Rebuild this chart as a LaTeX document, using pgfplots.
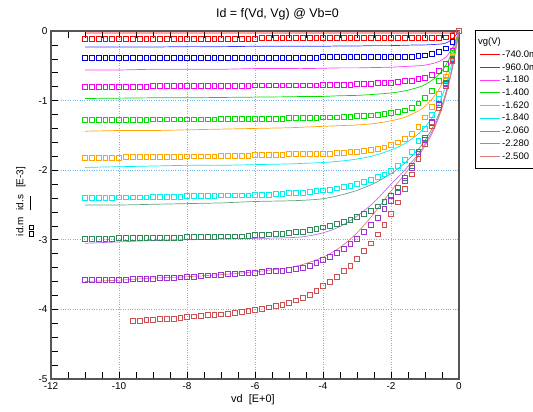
\documentclass[border=0pt]{standalone}
\usepackage{pgfplots}
\pgfplotsset{compat=1.18}
\usepackage{pgfplotstable}
\usepackage{fontspec}
\setmainfont{Liberation Sans}
\usetikzlibrary{calc}

\definecolor{c1}{RGB}{255,0,0}
\definecolor{c2s}{RGB}{0,0,225}
\definecolor{c2l}{RGB}{60,60,255}
\definecolor{c3}{RGB}{245,0,245}
\definecolor{c3l}{RGB}{255,60,255}
\definecolor{c4}{RGB}{0,220,0}
\definecolor{c5}{RGB}{255,165,0}
\definecolor{c6}{RGB}{0,240,240}
\definecolor{c7}{RGB}{46,139,87}
\definecolor{c7l}{RGB}{95,165,125}
\definecolor{c8}{RGB}{160,50,215}
\definecolor{c8l}{RGB}{185,110,240}
\definecolor{c9}{RGB}{205,80,80}
\definecolor{c9l}{RGB}{220,125,125}
\definecolor{gridc}{RGB}{110,185,240}
\definecolor{axc}{RGB}{85,85,85}

\pgfplotsset{/pgfplots/legend image code/.code={\draw[#1, line width=1bp] (0bp,0bp) -- (20bp,0bp);}}

\newcommand\sq{{\setlength\fboxsep{0pt}\setlength\fboxrule{0.5bp}\fbox{\rule{0pt}{4bp}\rule{4bp}{0pt}}}}

\pgfplotstableread{
x     s1     s2     s3     s4     s5     s6     s7     s8     s9
-11.0 -0.11 -0.39  -0.80 -1.28 -1.82 -2.40 -2.98 -3.58 nan
-10.8 -0.11 -0.39  -0.80 -1.28 -1.82 -2.40 -2.98 -3.58 nan
-10.6 -0.11 -0.39  -0.80 -1.28 -1.82 -2.40 -2.98 -3.58 nan
-10.4 -0.11 -0.39  -0.80 -1.28 -1.82 -2.40 -2.98 -3.57 nan
-10.2 -0.11 -0.39  -0.80 -1.28 -1.82 -2.40 -2.98 -3.57 nan
-10.0 -0.11 -0.39  -0.80 -1.28 -1.82 -2.39 -2.97 -3.57 nan
-9.8  -0.11 -0.39  -0.80 -1.28 -1.81 -2.39 -2.97 -3.57 nan
-9.6  -0.11 -0.39  -0.80 -1.28 -1.81 -2.39 -2.97 -3.56 -4.16
-9.4  -0.11 -0.39  -0.80 -1.28 -1.81 -2.39 -2.97 -3.56 -4.16
-9.2  -0.11 -0.39  -0.80 -1.28 -1.81 -2.39 -2.97 -3.56 -4.15
-9.0  -0.11 -0.39  -0.79 -1.27 -1.81 -2.38 -2.97 -3.56 -4.15
-8.8  -0.11 -0.39  -0.79 -1.27 -1.81 -2.38 -2.97 -3.55 -4.14
-8.6  -0.11 -0.39  -0.79 -1.27 -1.81 -2.38 -2.97 -3.55 -4.13
-8.4  -0.11 -0.39  -0.79 -1.27 -1.81 -2.38 -2.97 -3.55 -4.13
-8.2  -0.11 -0.39  -0.79 -1.27 -1.81 -2.38 -2.97 -3.54 -4.12
-8.0  -0.11 -0.385 -0.79 -1.27 -1.80 -2.37 -2.96 -3.53 -4.11
-7.8  -0.11 -0.385 -0.79 -1.27 -1.80 -2.37 -2.96 -3.53 -4.10
-7.6  -0.11 -0.385 -0.79 -1.27 -1.80 -2.37 -2.96 -3.52 -4.09
-7.4  -0.11 -0.385 -0.79 -1.27 -1.80 -2.37 -2.96 -3.51 -4.08
-7.2  -0.11 -0.385 -0.79 -1.27 -1.80 -2.37 -2.96 -3.51 -4.08
-7.0  -0.11 -0.385 -0.79 -1.26 -1.79 -2.36 -2.95 -3.50 -4.07
-6.8  -0.11 -0.385 -0.79 -1.26 -1.79 -2.36 -2.95 -3.49 -4.06
-6.6  -0.11 -0.385 -0.79 -1.26 -1.79 -2.36 -2.95 -3.49 -4.05
-6.4  -0.11 -0.385 -0.79 -1.26 -1.79 -2.36 -2.95 -3.48 -4.04
-6.2  -0.11 -0.385 -0.79 -1.26 -1.79 -2.36 -2.94 -3.47 -4.02
-6.0  -0.11 -0.38  -0.78 -1.26 -1.78 -2.35 -2.93 -3.47 -4.01
-5.8  -0.10 -0.38  -0.78 -1.26 -1.78 -2.35 -2.93 -3.46 -3.99
-5.6  -0.10 -0.38  -0.78 -1.26 -1.78 -2.35 -2.92 -3.45 -3.97
-5.4  -0.10 -0.38  -0.78 -1.26 -1.78 -2.34 -2.91 -3.45 -3.95
-5.2  -0.10 -0.38  -0.78 -1.26 -1.78 -2.34 -2.91 -3.44 -3.93
-5.0  -0.10 -0.38  -0.78 -1.25 -1.77 -2.33 -2.90 -3.43 -3.90
-4.8  -0.10 -0.38  -0.78 -1.25 -1.77 -2.33 -2.89 -3.42 -3.87
-4.6  -0.10 -0.38  -0.78 -1.25 -1.77 -2.32 -2.88 -3.40 -3.83
-4.4  -0.10 -0.38  -0.78 -1.25 -1.77 -2.31 -2.86 -3.37 -3.79
-4.2  -0.10 -0.38  -0.78 -1.25 -1.77 -2.30 -2.84 -3.33 -3.73
-4.0  -0.10 -0.375 -0.77 -1.24 -1.76 -2.29 -2.82 -3.29 -3.66
-3.8  -0.10 -0.375 -0.77 -1.24 -1.76 -2.28 -2.80 -3.24 -3.60
-3.6  -0.10 -0.375 -0.77 -1.24 -1.75 -2.26 -2.77 -3.19 -3.53
-3.4  -0.10 -0.375 -0.77 -1.23 -1.75 -2.24 -2.74 -3.13 -3.45
-3.2  -0.10 -0.375 -0.77 -1.23 -1.74 -2.22 -2.71 -3.06 -3.37
-3.0  -0.10 -0.375 -0.76 -1.22 -1.74 -2.20 -2.67 -2.98 -3.27
-2.8  -0.10 -0.375 -0.76 -1.22 -1.72 -2.17 -2.63 -2.89 -3.16
-2.6  -0.10 -0.375 -0.76 -1.21 -1.71 -2.14 -2.58 -2.79 -3.05
-2.4  -0.10 -0.375 -0.75 -1.20 -1.69 -2.10 -2.52 -2.68 -2.92
-2.2  -0.10 -0.375 -0.75 -1.19 -1.67 -2.06 -2.45 -2.56 -2.78
-2.0  -0.10 -0.37  -0.74 -1.18 -1.64 -2.01 -2.36 -2.44 -2.63
-1.8  -0.10 -0.37  -0.73 -1.16 -1.60 -1.94 -2.25 -2.31 -2.46
-1.6  -0.10 -0.365 -0.72 -1.14 -1.55 -1.85 -2.11 -2.15 -2.27
-1.4  -0.10 -0.365 -0.71 -1.10 -1.48 -1.73 -1.94 -1.97 -2.06
-1.2  -0.10 -0.36  -0.69 -1.04 -1.38 -1.58 -1.74 -1.77 -1.84
-1.0  -0.10 -0.35  -0.67 -0.96 -1.24 -1.40 -1.53 -1.56 -1.62
-0.8  -0.10 -0.33  -0.63 -0.86 -1.09 -1.20 -1.30 -1.32 -1.37
-0.6  -0.10 -0.30  -0.57 -0.72 -0.90 -0.97 -1.04 -1.06 -1.10
-0.4  -0.09 -0.25  -0.47 -0.54 -0.65 -0.70 -0.75 -0.76 -0.79
-0.2  -0.07 -0.16  -0.28 -0.31 -0.35 -0.38 -0.40 -0.41 -0.43
0.0   0     0      0     0     0     0     0     0     0
}\sqdata

\pgfplotstableread{
x     l1     l2     l3     l4     l5    l6    l7    l8    l9
-11.0 -0.03 -0.23  -0.56  -0.97  -1.44 -1.96 -2.50 -3.05 -3.60
-10.0 -0.03 -0.23  -0.56  -0.965 -1.43 -1.95 -2.50 -3.03 -3.58
-9.0  -0.03 -0.23  -0.55  -0.96  -1.43 -1.94 -2.49 -3.01 -3.55
-8.0  -0.03 -0.225 -0.55  -0.96  -1.42 -1.93 -2.48 -3.00 -3.53
-7.0  -0.03 -0.225 -0.55  -0.955 -1.41 -1.93 -2.47 -2.99 -3.50
-6.0  -0.03 -0.22  -0.54  -0.95  -1.40 -1.92 -2.45 -2.98 -3.46
-5.0  -0.03 -0.22  -0.54  -0.945 -1.39 -1.91 -2.44 -2.97 -3.40
-4.5  -0.03 -0.22  -0.54  -0.94  -1.38 -1.90 -2.43 -2.95 -3.34
-4.0  -0.03 -0.22  -0.535 -0.94  -1.37 -1.89 -2.41 -2.90 -3.25
-3.5  -0.03 -0.215 -0.53  -0.93  -1.36 -1.87 -2.36 -2.81 -3.11
-3.0  -0.03 -0.215 -0.53  -0.925 -1.35 -1.84 -2.29 -2.66 -2.90
-2.5  -0.03 -0.21  -0.525 -0.91  -1.33 -1.79 -2.19 -2.46 -2.62
-2.0  -0.03 -0.21  -0.52  -0.89  -1.29 -1.71 -2.05 -2.20 -2.30
-1.6  -0.03 -0.205 -0.51  -0.86  -1.24 -1.62 -1.90 -2.00 -2.06
-1.2  -0.03 -0.20  -0.50  -0.81  -1.15 -1.48 -1.70 -1.77 -1.80
-1.0  -0.03 -0.20  -0.49  -0.77  -1.08 -1.38 -1.57 -1.62 -1.65
-0.8  -0.03 -0.195 -0.47  -0.71  -0.98 -1.25 -1.41 -1.45 -1.48
-0.6  -0.03 -0.19  -0.44  -0.63  -0.85 -1.06 -1.20 -1.23 -1.25
-0.4  -0.03 -0.175 -0.38  -0.50  -0.65 -0.80 -0.91 -0.93 -0.95
-0.2  -0.025 -0.12 -0.25  -0.30  -0.37 -0.45 -0.52 -0.53 -0.55
0.0   0     0      0      0      0     0     0     0     0
}\lndata

\begin{document}
\begin{tikzpicture}
\begin{axis}[
  name=ax,
  scale only axis, width=408bp, height=348bp,
  xmin=-12, xmax=0, ymin=-5, ymax=0,
  xtick={-12,-10,...,0}, ytick={-5,-4,...,0},
  minor x tick num=3, minor y tick num=4,
  xtick pos=both, ytick pos=left,
  tick align=inside,
  major tick length=7bp, minor tick length=7bp,
  tick style={black, line width=0.6bp},
  axis line style={axc, line width=1.3bp},
  grid=major,
  major grid style={gridc, dotted, line width=0.7bp},
  /pgf/number format/assume math mode=true,
  ticklabel style={font=\fontsize{10}{12}\selectfont},
  title={Id = f(Vd, Vg) @ Vb=0},
  title style={font=\fontsize{12.5}{14}\selectfont, at={(axis description cs:0.555,1)}, anchor=south, yshift=1bp},
  xlabel={vd\ \ [E+0]},
  xlabel style={font=\fontsize{11}{13}\selectfont, at={(axis description cs:0.495,0)}, anchor=north, yshift=-12bp},
  ylabel={\begin{tabular}{@{}l@{\hspace{7bp}}l@{\hspace{7bp}}l@{}}id.m & id.s & [E-3]\\[-2bp] \sq\hspace{1.5bp}\sq & \rule[2.5bp]{14bp}{0.6bp} & \end{tabular}},
  ylabel style={font=\fontsize{10}{12}\selectfont, at={(axis description cs:-0.026,0.51)}, anchor=south},
  legend cell align=left,
  legend style={at={(axis description cs:1,1)}, anchor=north west, xshift=16bp, yshift=1bp,
    draw=black, font=\fontsize{9.5}{11}\selectfont, row sep=0.65bp,
    inner xsep=4bp, inner ysep=5.5bp},
  clip=false,
]
\addlegendimage{empty legend}
\addlegendentry{\hspace{-24bp}vg(V)}

\addplot[c1, only marks, mark=square, mark size=2.4bp, line width=0.6bp, forget plot] table[x=x,y=s1]{\sqdata};
\addplot[c2s, only marks, mark=square, mark size=2.4bp, line width=0.6bp, forget plot] table[x=x,y=s2]{\sqdata};
\addplot[c3, only marks, mark=square, mark size=2.4bp, line width=0.6bp, forget plot] table[x=x,y=s3]{\sqdata};
\addplot[c4, only marks, mark=square, mark size=2.4bp, line width=0.6bp, forget plot] table[x=x,y=s4]{\sqdata};
\addplot[c5, only marks, mark=square, mark size=2.4bp, line width=0.6bp, forget plot] table[x=x,y=s5]{\sqdata};
\addplot[c6, only marks, mark=square, mark size=2.4bp, line width=0.6bp, forget plot] table[x=x,y=s6]{\sqdata};
\addplot[c7, only marks, mark=square, mark size=2.4bp, line width=0.6bp, forget plot] table[x=x,y=s7]{\sqdata};
\addplot[c8, only marks, mark=square, mark size=2.4bp, line width=0.6bp, forget plot] table[x=x,y=s8]{\sqdata};
\addplot[c9, only marks, mark=square, mark size=2.4bp, line width=0.6bp, forget plot] table[x=x,y=s9]{\sqdata};

\addplot[c1, no marks, line width=0.7bp, smooth] table[x=x,y=l1]{\lndata};
\addlegendentry{-740.0m}
\addplot[c2l, no marks, line width=0.7bp, smooth] table[x=x,y=l2]{\lndata};
\addlegendentry{-960.0m}
\addplot[c3l, no marks, line width=0.7bp, smooth] table[x=x,y=l3]{\lndata};
\addlegendentry{-1.180}
\addplot[c4, no marks, line width=0.7bp, smooth] table[x=x,y=l4]{\lndata};
\addlegendentry{-1.400}
\addplot[c5, no marks, line width=0.7bp, smooth] table[x=x,y=l5]{\lndata};
\addlegendentry{-1.620}
\addplot[c6, no marks, line width=0.7bp, smooth] table[x=x,y=l6]{\lndata};
\addlegendentry{-1.840}
\addplot[c7l, no marks, line width=0.7bp, smooth] table[x=x,y=l7]{\lndata};
\addlegendentry{-2.060}
\addplot[c8l, no marks, line width=0.7bp, smooth] table[x=x,y=l8]{\lndata};
\addlegendentry{-2.280}
\addplot[c9l, no marks, line width=0.7bp, smooth] table[x=x,y=l9]{\lndata};
\addlegendentry{-2.500}
\end{axis}
\pgfresetboundingbox
\path[use as bounding box] ($(ax.south west)+(-51bp,-33bp)$) rectangle ($(ax.north east)+(74bp,31bp)$);
\end{tikzpicture}
\end{document}
